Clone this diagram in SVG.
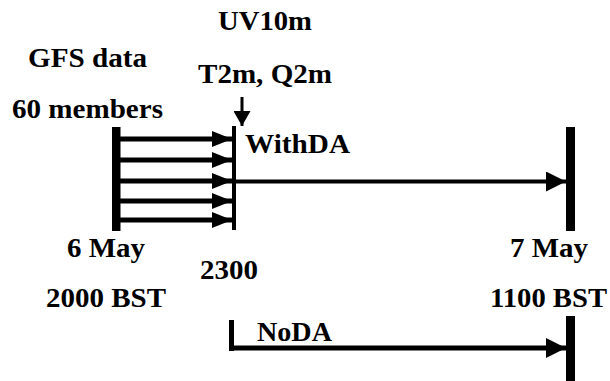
<svg xmlns="http://www.w3.org/2000/svg" width="610" height="381" viewBox="0 0 610 381">
<style>
text{font-family:'Liberation Serif','Times New Roman',Times,serif;font-weight:700;font-size:27.5px;fill:#000}
.ln{stroke:#000;fill:none}
</style>
<defs>
<marker id="ah" markerUnits="userSpaceOnUse" markerWidth="20" markerHeight="16" refX="20" refY="8" orient="auto"><path d="M0,0L20,8L0,16Z" fill="#000"/></marker>
<marker id="ah2" markerUnits="userSpaceOnUse" markerWidth="20" markerHeight="20" refX="20" refY="10" orient="auto"><path d="M0,0L20,10L0,20Z" fill="#000"/></marker>
<marker id="ah3" markerUnits="userSpaceOnUse" markerWidth="15" markerHeight="17" refX="15" refY="8.5" orient="auto"><path d="M0,0L15,8.5L0,17Z" fill="#000"/></marker>
</defs>
<rect width="610" height="381" fill="#fff"/>
<g id="labels">
<text x="218" y="30" textLength="94" lengthAdjust="spacingAndGlyphs">UV10m</text>
<text x="28" y="67" textLength="119" lengthAdjust="spacingAndGlyphs">GFS data</text>
<text x="198" y="83" textLength="134" lengthAdjust="spacingAndGlyphs">T2m, Q2m</text>
<text x="12" y="118" textLength="151" lengthAdjust="spacingAndGlyphs">60 members</text>
<text x="245" y="153" textLength="105" lengthAdjust="spacingAndGlyphs">WithDA</text>
<text x="67" y="257" textLength="78" lengthAdjust="spacingAndGlyphs">6 May</text>
<text x="200" y="279" textLength="58" lengthAdjust="spacingAndGlyphs">2300</text>
<text x="46" y="307" textLength="120" lengthAdjust="spacingAndGlyphs">2000 BST</text>
<text x="257" y="341" textLength="75" lengthAdjust="spacingAndGlyphs">NoDA</text>
<text x="510" y="257" textLength="78" lengthAdjust="spacingAndGlyphs">7 May</text>
<text x="490" y="307" textLength="117" lengthAdjust="spacingAndGlyphs">1100 BST</text>
</g>
<g id="bars">
<rect id="bar-start" x="112" y="127" width="8.5" height="104" fill="#000"/>
<rect id="bar-2300" x="232" y="126" width="4" height="104" fill="#000"/>
<rect id="bar-end" x="566" y="127" width="9" height="104" fill="#000"/>
<rect id="bar-end-noda" x="566" y="316" width="9" height="65" fill="#000"/>
<rect id="bar-noda-start" x="229" y="320" width="5" height="31" fill="#000"/>
</g>
<g id="connectors">
<line class="ln" x1="120" y1="139" x2="232" y2="139" stroke-width="5" marker-end="url(#ah)"/>
<line class="ln" x1="120" y1="160" x2="232" y2="160" stroke-width="5" marker-end="url(#ah)"/>
<line class="ln" x1="120" y1="181" x2="232" y2="181" stroke-width="5" marker-end="url(#ah)"/>
<line class="ln" x1="120" y1="201" x2="232" y2="201" stroke-width="5" marker-end="url(#ah)"/>
<line class="ln" x1="120" y1="220" x2="232" y2="220" stroke-width="5" marker-end="url(#ah)"/>
<line class="ln" x1="236" y1="181.5" x2="566" y2="181.5" stroke-width="4" marker-end="url(#ah2)"/>
<line class="ln" x1="229" y1="348" x2="566" y2="348" stroke-width="5" marker-end="url(#ah2)"/>
<line class="ln" x1="242" y1="97" x2="242" y2="126" stroke-width="3" marker-end="url(#ah3)"/>
</g>
</svg>
